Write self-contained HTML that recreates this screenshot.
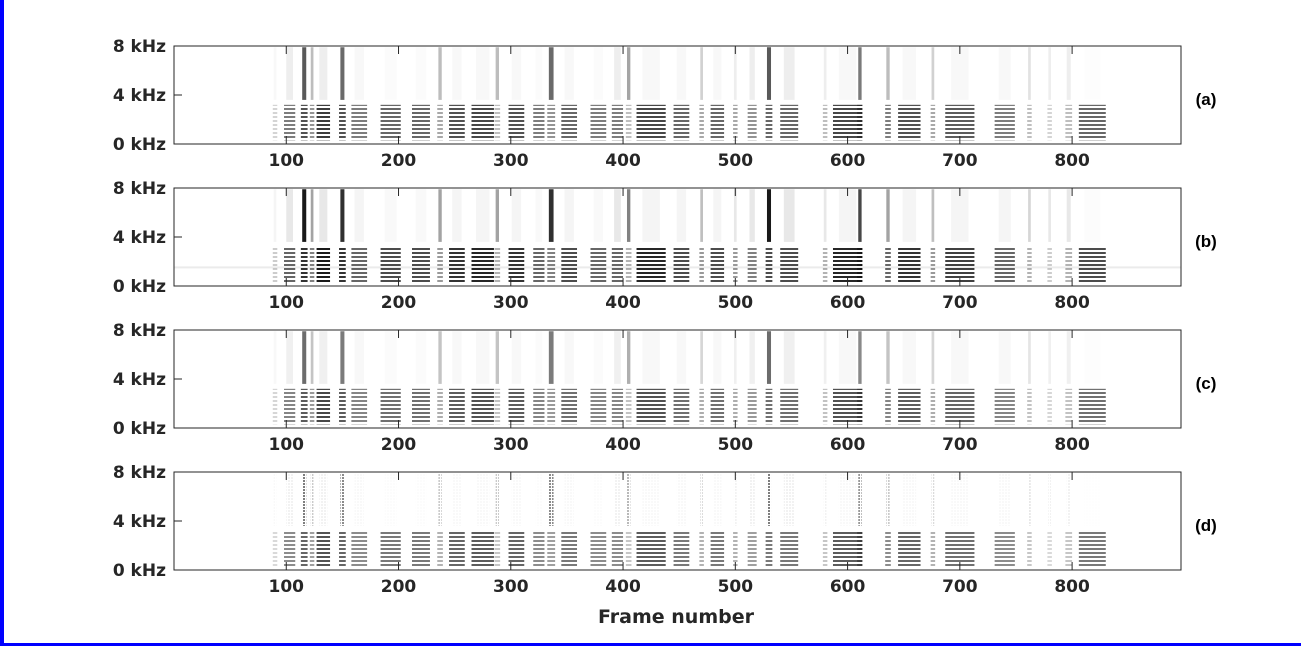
<!DOCTYPE html>
<html><head><meta charset="utf-8"><style>
body{margin:0;background:#fff;width:1301px;height:646px;overflow:hidden;font-family:"Liberation Sans",sans-serif}
svg{position:absolute;left:0;top:0}
</style></head><body>
<svg id="c" width="1301" height="646" xmlns="http://www.w3.org/2000/svg">
<defs>
<pattern id="harm" width="6" height="4" patternUnits="userSpaceOnUse"><rect width="6" height="2" fill="#000"/></pattern>
<pattern id="speck" width="3" height="3" patternUnits="userSpaceOnUse"><rect width="2" height="2" fill="#000"/></pattern>
</defs>
<rect x="0" y="0" width="4" height="646" fill="#0000ff"/>
<rect x="0" y="643" width="1301" height="3" fill="#0000ff"/>
</svg>
<script>
const frames=[90,103,116,123,133,150,165,193,220,237,252,275,288,305,325,336,352,378,395,405,425,452,470,484,500,515,530,548,580,600,611,636,655,676,700,740,762,780,797,818];
const widths=[4,10,6,4,12,6,14,18,16,5,14,20,5,14,10,7,14,14,10,5,26,14,4,12,4,8,6,16,4,26,5,5,20,4,26,18,4,4,6,24];
const lowVals=[0.2,0.6,0.8,0.5,0.9,0.8,0.6,0.7,0.7,0.4,0.8,0.85,0.3,0.8,0.6,0.5,0.7,0.6,0.6,0.3,0.85,0.7,0.4,0.7,0.4,0.5,0.7,0.7,0.3,0.85,0.4,0.6,0.8,0.4,0.75,0.6,0.3,0.2,0.3,0.7];
const highVals=[0.2,0.3,0.95,0.6,0.3,0.9,0.2,0.15,0.15,0.6,0.2,0.2,0.6,0.2,0.15,0.9,0.2,0.15,0.3,0.7,0.2,0.2,0.5,0.2,0.3,0.3,0.95,0.3,0.3,0.2,0.85,0.6,0.2,0.5,0.2,0.2,0.4,0.3,0.3,0.1];
const panelLabels=['(a)','(b)','(c)','(d)'];
const panelGain=[0.85,1.0,0.8,0.75];
const xTicks=[100,200,300,400,500,600,700,800];
const yTicks=[0,4,8];
const NS='http://www.w3.org/2000/svg';
const svg=document.getElementById('c');
const X0=174,X1=1181,FMAX=897;
const tops=[46,188,330,472],H=98;
const xs=f=>X0+(f/FMAX)*(X1-X0);
function mk(t,a){const e=document.createElementNS(NS,t);for(const k in a)e.setAttribute(k,a[k]);svg.appendChild(e);return e;}
tops.forEach((top,p)=>{
  const ys=k=>top+H-(k/8)*H;
  const g=panelGain[p];
  frames.forEach((f,i)=>{
    const x=xs(f-widths[i]/2),w=xs(widths[i])-X0;
    let r=mk('rect',{x:x,y:ys(3.2),width:w,height:ys(0.3)-ys(3.2),fill:'url(#harm)',opacity:Math.min(1,lowVals[i]*g)});
    
    
    const hv=highVals[i]*g;
    let h=mk('rect',{x:x+w*0.2,y:ys(7.9),width:w*0.6,height:ys(3.6)-ys(7.9),fill:p==3?'url(#speck)':'#000',opacity:Math.min(1,hv*hv)});
    
    
  });
  if(p==1){const n=mk('rect',{x:X0,y:ys(1.6),width:X1-X0,height:2,fill:'#000',opacity:0.08});
    }
  const b=mk('rect',{x:X0,y:top,width:X1-X0,height:H,fill:'none',stroke:'#262626','stroke-width':1});
  
  
  xTicks.forEach(t=>{
    mk('line',{x1:xs(t),x2:xs(t),y1:top,y2:top+8,stroke:'#262626'});
    mk('line',{x1:xs(t),x2:xs(t),y1:top+H,y2:top+H-8,stroke:'#262626'});
    const tx=mk('text',{x:xs(t),y:top+H+22,'text-anchor':'middle','font-size':17,'font-weight':'bold',fill:'#262626','font-family':'DejaVu Sans, sans-serif'});
    tx.textContent=t;
    
    
  });
  yTicks.forEach(k=>{
    mk('line',{x1:X0,x2:X0+8,y1:ys(k),y2:ys(k),stroke:'#262626'});
    const ty=mk('text',{x:166,y:ys(k)+6,'text-anchor':'end','font-size':17,'font-weight':'bold',fill:'#262626','font-family':'DejaVu Sans, sans-serif'});
    ty.textContent=k+' kHz';
    
    
  });
  const pl=mk('text',{x:1206,y:top+H/2+10,'text-anchor':'middle','font-size':17,'font-weight':'bold',fill:'#000'});
  pl.textContent=panelLabels[p];
  
  
});
const xl=mk('text',{x:676,y:623,'text-anchor':'middle','font-size':19,'font-weight':'bold',fill:'#262626','font-family':'DejaVu Sans, sans-serif'});
xl.textContent='Frame number';


</script>
</body></html>
